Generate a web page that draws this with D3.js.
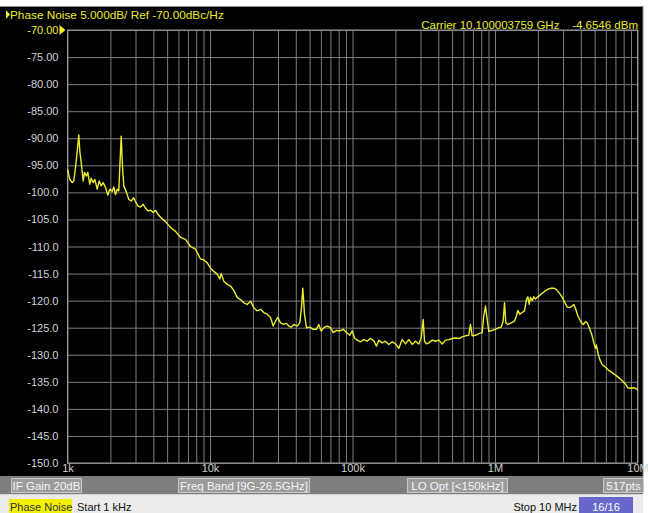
<!DOCTYPE html>
<html>
<head>
<meta charset="utf-8">
<script src="https://cdn.jsdelivr.net/npm/d3@7"></script>
<style>
  html, body { margin: 0; padding: 0; background: #fff; }
  svg { display: block; font-family: 'Liberation Sans', Arial, sans-serif; }
</style>
</head>
<body>
<div class="chart"></div>
<script>
'use strict';

// trace (offset frequency, Hz / dBc/Hz)
const freqHz = [
  1000, 1038, 1079, 1107, 1138, 1170, 1200, 1220, 1248, 1289, 1316, 1359,
  1388, 1433, 1466, 1514, 1555, 1616, 1669, 1724, 1780, 1848, 1918, 1981,
  2059, 2113, 2172, 2233, 2291, 2328, 2382, 2432, 2483, 2594, 2693, 2799,
  2918, 2999, 3112, 3252, 3397, 3525, 3661, 3823, 3993, 4146, 4304, 4494,
  4873, 5283, 5728, 6209, 6730, 7295, 7907, 8577, 9048, 9550, 10080, 10630,
  11230, 11720, 11980, 12500, 13210, 13930, 14690, 15520, 16370, 17270, 18240, 19240,
  20290, 21440, 22610, 23850, 25200, 26590, 27770, 28820, 29910, 31240, 32960, 34420,
  35730, 37140, 38730, 40930, 42660, 43850, 44790, 46030, 47530, 50140, 52970, 55850,
  57990, 60260, 62900, 66450, 70070, 73200, 77220, 81470, 86100, 90780, 95730, 99540,
  103300, 107900, 113800, 120100, 126800, 133700, 141000, 147300, 153000, 161600, 170400, 179800,
  189900, 200400, 211300, 223300, 235500, 248400, 262400, 276700, 291800, 303400, 313300, 320100,
  330500, 343200, 362400, 382400, 403300, 426100, 449300, 474200, 500700, 528200, 557200, 588500,
  620800, 654600, 673000, 691500, 729700, 769400, 812700, 834200, 857500, 871500, 904800, 955300,
  1008000, 1063000, 1105000, 1141000, 1166000, 1191000, 1230000, 1299000, 1371000, 1416000, 1446000, 1494000,
  1552000, 1611000, 1663000, 1700000, 1738000, 1775000, 1824000, 1873000, 1923000, 1997000, 2109000, 2225000,
  2347000, 2478000, 2616000, 2733000, 2849000, 2962000, 3074000, 3211000, 3349000, 3480000, 3573000, 3690000,
  3811000, 3981000, 4159000, 4315000, 4436000, 4627000, 4808000, 4935000, 5073000, 5155000, 5266000, 5439000,
  5650000, 5963000, 6290000, 6645000, 7203000, 7809000, 8237000, 8551000, 8934000, 9419000, 9840000, 10000000
];

const noiseDbc = [
  -95.7, -97.6, -98.2, -97.9, -95.4, -92.4, -89.4, -92.4, -94.5, -97.9, -96.3, -97.0,
  -96.3, -98.5, -97.4, -98.2, -97.6, -99.4, -97.9, -98.8, -98.2, -99.1, -100.5, -99.4,
  -99.8, -99.0, -100.4, -99.4, -99.7, -95.4, -89.6, -95.4, -98.8, -100.0, -101.3, -101.6,
  -101.0, -101.7, -102.5, -102.7, -102.2, -102.9, -103.4, -103.3, -103.7, -103.3, -104.0, -104.6,
  -105.4, -106.5, -107.2, -108.3, -108.7, -110.0, -110.5, -112.3, -112.5, -113.0, -114.0, -114.6,
  -115.1, -116.0, -115.0, -116.4, -117.0, -117.3, -118.1, -119.4, -119.8, -120.4, -120.7, -120.1,
  -121.3, -121.9, -121.6, -122.2, -122.5, -123.1, -124.7, -123.8, -123.1, -124.1, -124.4, -124.2,
  -124.7, -124.9, -124.4, -124.7, -124.1, -121.3, -117.7, -122.5, -125.0, -124.9, -125.3, -125.3,
  -124.4, -125.6, -125.0, -124.7, -125.0, -125.9, -125.5, -125.6, -125.3, -125.9, -126.4, -125.6,
  -126.9, -127.3, -127.6, -127.2, -127.5, -127.0, -127.4, -128.4, -127.3, -127.8, -127.5, -128.1,
  -127.6, -128.0, -128.8, -127.2, -128.0, -127.2, -128.1, -127.5, -128.0, -126.9, -123.5, -127.5,
  -128.0, -127.8, -127.3, -127.5, -127.3, -128.0, -127.3, -127.2, -127.0, -126.9, -127.0, -126.7,
  -126.5, -126.4, -124.4, -126.5, -126.4, -126.1, -125.9, -122.8, -121.0, -122.5, -125.7, -125.5,
  -125.3, -125.0, -124.9, -123.8, -120.4, -124.1, -124.4, -124.1, -123.8, -122.8, -121.8, -122.5,
  -122.2, -121.9, -119.8, -119.3, -120.7, -119.4, -120.0, -119.3, -119.7, -119.3, -118.8, -118.3,
  -117.9, -117.7, -117.7, -118.1, -118.7, -119.4, -120.2, -121.2, -121.3, -121.0, -120.7, -121.6,
  -122.8, -123.8, -124.4, -123.9, -124.1, -125.3, -126.5, -127.8, -128.8, -128.2, -129.6, -130.9,
  -131.8, -132.3, -132.9, -133.3, -134.0, -134.8, -135.4, -136.1, -136.2, -136.1, -136.3, -136.5
];

const yTicks = [-70, -75, -80, -85, -90, -95, -100, -105, -110, -115, -120, -125, -130, -135, -140, -145, -150];
const yTickLabels = ['-70.00', '-75.00', '-80.00', '-85.00', '-90.00', '-95.00', '-100.0', '-105.0', '-110.0',
  '-115.0', '-120.0', '-125.0', '-130.0', '-135.0', '-140.0', '-145.0', '-150.0'];
const xTicks = [1e3, 1e4, 1e5, 1e6, 1e7];
const xTickLabels = ['1k', '10k', '100k', '1M', '10M'];

const titleText = 'Phase Noise 5.000dB/ Ref -70.00dBc/Hz';
const carrierText = 'Carrier 10.100003759 GHz    -4.6546 dBm';
const softkeys = ['IF Gain 20dB', 'Freq Band [9G-26.5GHz]', 'LO Opt [<150kHz]', '517pts'];
const statusLeft = ['Phase Noise', 'Start 1 kHz'];
const statusRight = ['Stop 10 MHz', '16/16'];

const FULL_WIDTH = 648;
const FULL_HEIGHT = 513;
const margin = { top: 30, right: 10.5, bottom: 50, left: 67.5 };
const WIDTH = FULL_WIDTH - margin.left - margin.right;
const HEIGHT = FULL_HEIGHT - margin.top - margin.bottom;

const YELLOW = '#ecec2c';
const GRID = '#7c7c7c';
const LABEL = '#d2d2d2';

const root = d3.select('.chart')
  .append('svg')
    .attr('width', FULL_WIDTH)
    .attr('height', FULL_HEIGHT)
    .attr('font-size', '11px');

// screen frame
root.append('rect')
  .attr('x', 0).attr('y', 0)
  .attr('width', FULL_WIDTH).attr('height', FULL_HEIGHT)
  .attr('fill', '#ffffff');
root.append('rect')
  .attr('x', -1).attr('y', 6.5)
  .attr('width', 644).attr('height', 470)
  .attr('fill', '#000000')
  .attr('stroke', '#8a8a8a');

// header
root.append('path')
  .attr('d', 'M6,10 L10,14.5 L6,19 Z')
  .attr('fill', YELLOW);
root.append('text')
  .attr('x', 10).attr('y', 19)
  .attr('fill', YELLOW)
  .attr('font-size', '11.8px')
  .text(titleText);
root.append('text')
  .attr('x', 638).attr('y', 28.5)
  .attr('text-anchor', 'end')
  .attr('fill', YELLOW)
  .attr('font-size', '11.5px')
  .style('white-space', 'pre')
  .text(carrierText);

const svg = root.append('g')
  .attr('transform', 'translate(' + margin.left + ',' + margin.top + ')');

const x = d3.scaleLog()
  .domain([1e3, 1e7])
  .range([0, WIDTH]);

const y = d3.scaleLinear()
  .domain([-150, -70])
  .range([HEIGHT, 0]);

// log grid: every 1..9 of each decade
const gridX = [];
for (let dec = 1e3; dec < 1e7; dec *= 10) {
  for (let k = 1; k < 10; k++) gridX.push(dec * k);
}
gridX.push(1e7);

svg.append('g')
  .attr('class', 'grid-x')
  .call(d3.axisBottom(x).tickValues(gridX).tickSize(HEIGHT).tickFormat(''))
  .call((g) => g.select('.domain').remove())
  .call((g) => g.selectAll('line').attr('stroke', GRID).attr('stroke-width', 1));

svg.append('g')
  .attr('class', 'grid-y')
  .call(d3.axisLeft(y).tickValues(yTicks).tickSize(-WIDTH).tickFormat(''))
  .call((g) => g.select('.domain').remove())
  .call((g) => g.selectAll('line').attr('stroke', GRID).attr('stroke-width', 1));

svg.append('rect')
  .attr('width', WIDTH)
  .attr('height', HEIGHT)
  .attr('fill', 'none')
  .attr('stroke', '#9a9a9a');

// y labels
svg.append('g')
  .attr('class', 'axis-y')
  .call(d3.axisLeft(y).tickValues(yTicks).tickSize(0).tickPadding(9)
    .tickFormat((d, i) => yTickLabels[i]))
  .call((g) => g.select('.domain').remove())
  .call((g) => g.selectAll('text')
    .attr('font-family', "'Liberation Sans', Arial, sans-serif")
    .attr('font-size', '11px')
    .attr('fill', (d) => d === -70 ? YELLOW : LABEL));

// reference level marker
svg.append('path')
  .attr('d', 'M-8,' + (y(-70) - 5) + ' L-2,' + y(-70) + ' L-8,' + (y(-70) + 5) + ' Z')
  .attr('fill', YELLOW);

// x labels
svg.append('g')
  .attr('class', 'axis-x')
  .attr('transform', 'translate(0,' + HEIGHT + ')')
  .call(d3.axisBottom(x).tickValues(xTicks).tickSize(0).tickPadding(0)
    .tickFormat((d, i) => xTickLabels[i]))
  .call((g) => g.select('.domain').remove())
  .call((g) => g.selectAll('text')
    .attr('dy', '0')
    .attr('y', 9)
    .attr('font-family', "'Liberation Sans', Arial, sans-serif")
    .attr('font-size', '11px')
    .attr('fill', LABEL));

// trace
const trace = freqHz.map((f, i) => ({ f: f, v: noiseDbc[i] }));
const line = d3.line()
  .x((d) => x(d.f))
  .y((d) => y(d.v));

svg.append('path')
  .datum(trace)
  .attr('fill', 'none')
  .attr('stroke', YELLOW)
  .attr('stroke-width', 1.4)
  .attr('stroke-linejoin', 'round')
  .attr('d', line);

// softkey bar
root.append('rect')
  .attr('x', 0).attr('y', 476)
  .attr('width', 643).attr('height', 18.5)
  .attr('fill', '#7e7e7e');

const keyPos = [
  { x: 11.5, w: 70 },
  { x: 178.5, w: 131 },
  { x: 407.5, w: 100 },
  { x: 603.5, w: 40 }
];
softkeys.forEach((label, i) => {
  const k = root.append('g')
    .attr('transform', 'translate(' + keyPos[i].x + ',478.5)');
  k.append('rect')
    .attr('width', keyPos[i].w).attr('height', 14)
    .attr('fill', '#9c9c9c')
    .attr('stroke', '#c8c8c8');
  k.append('text')
    .attr('x', keyPos[i].w / 2).attr('y', 11.5)
    .attr('text-anchor', 'middle')
    .attr('fill', '#f4f4f4')
    .attr('font-size', '11.5px')
    .text(label);
});

// status line
root.append('rect')
  .attr('x', 0).attr('y', 494.5)
  .attr('width', 643).attr('height', 19)
  .attr('fill', '#ebebeb');
root.append('rect')
  .attr('x', 9).attr('y', 499)
  .attr('width', 63).attr('height', 14)
  .attr('fill', '#f0f000');
root.append('text')
  .attr('x', 10).attr('y', 510.5)
  .attr('fill', '#333')
  .text(statusLeft[0]);
root.append('text')
  .attr('x', 77).attr('y', 510.5)
  .attr('fill', '#111')
  .text(statusLeft[1]);
root.append('text')
  .attr('x', 577).attr('y', 510.5)
  .attr('text-anchor', 'end')
  .attr('fill', '#111')
  .text(statusRight[0]);
root.append('rect')
  .attr('x', 579).attr('y', 497)
  .attr('width', 54).attr('height', 16)
  .attr('fill', '#6767cc');
root.append('text')
  .attr('x', 606).attr('y', 510.5)
  .attr('text-anchor', 'middle')
  .attr('fill', '#ffffff')
  .text(statusRight[1]);
</script>
</body>
</html>
